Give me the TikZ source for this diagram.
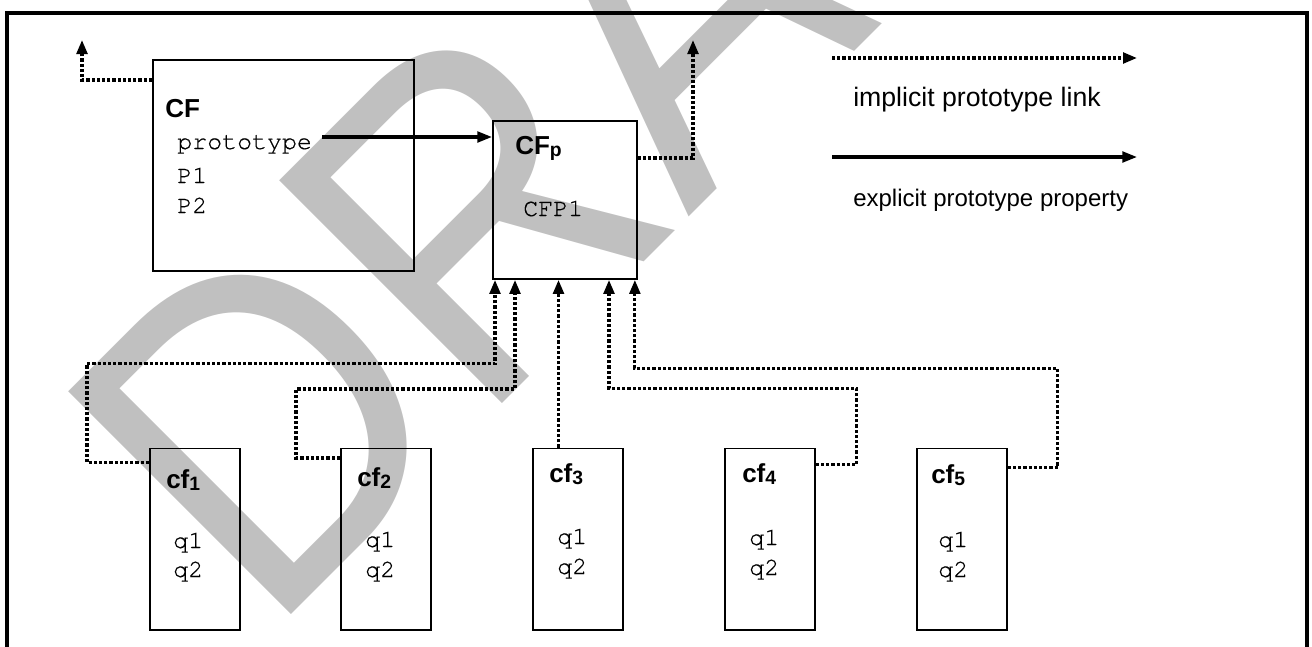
\documentclass[tikz,border=0pt]{standalone}
\usepackage{fontspec}
\usetikzlibrary{arrows.meta,calc}
\newfontfamily\sansf{Liberation Sans}
\newfontfamily\monof[FakeBold=0.5]{texgyrecursor-regular.otf}
\newfontfamily\wmfont{Liberation Sans}
\definecolor{wmgray}{RGB}{192,192,192}
\newdimen\upx \upx=0.75pt
\newcommand\sublab[1]{\raisebox{-2pt}{\fontsize{14.5pt}{15pt}\selectfont #1}}
\begin{document}
\begin{tikzpicture}[x=0.75pt,y=-0.75pt,
  box/.style={draw, line width=1.4pt, inner sep=0pt},
  imp/.style={line width=2.4pt, dash pattern=on 2.4pt off 1.5pt, -{Triangle[length=10.5pt,width=8pt]}},
  expl/.style={line width=2.3pt, -{Triangle[length=11pt,width=8pt]}},
  lab/.style={anchor=base west, inner sep=0pt, font=\sansf\fontsize{19.5pt}{22pt}\selectfont\bfseries},
  mono/.style={anchor=base west, inner sep=0pt, font=\monof\fontsize{18.7pt}{22pt}\selectfont},
  legtext/.style={anchor=base west, inner sep=0pt},
  cfbox/.style={box, anchor=north west, minimum width=90\upx, minimum height=181.5\upx},
]
\useasboundingbox (0,0) rectangle (1312,646);
% watermark
\begin{scope}
\clip (0,0) rectangle (1312,646);
\node[anchor=base west, inner sep=0pt, rotate=45, xscale=0.9, text=wmgray,
      font=\wmfont\fontsize{343.5pt}{350pt}\selectfont] (wm) at (267.6,638.4) {DRAFT};
\end{scope}
% frame
\draw[line width=2.4pt] (7,650) -- (7,13) -- (1307,13) -- (1307,650);
% boxes
\node[box, anchor=north west, minimum width=261\upx, minimum height=211\upx] (CF) at (152,59) {};
\node[box, anchor=north west, minimum width=144\upx, minimum height=158\upx] (CFp) at (492,120) {};
\node[cfbox] (cf1) at (149,447.5) {};
\node[cfbox] (cf2) at (340,447.5) {};
\node[cfbox] (cf3) at (532,447.5) {};
\node[cfbox] (cf4) at (724,447.5) {};
\node[cfbox] (cf5) at (916,447.5) {};
% texts
\node[lab] (tCF) at (165,117) {CF};
\node[mono] (tproto) at (177,149) {prototype};
\node[mono] (tP1) at (177,183) {P1};
\node[mono] (tP2) at (177,213) {P2};
\node[lab] (tCFp) at (515,154) {CF\sublab{p}};
\node[mono] (tCFP1) at (523,216) {CFP1};
\node[lab] (tc1) at (166,488) {cf\sublab{1}};
\node[lab] (tc2) at (357,486) {cf\sublab{2}};
\node[lab] (tc3) at (549,482) {cf\sublab{3}};
\node[lab] (tc4) at (742,482) {cf\sublab{4}};
\node[lab] (tc5) at (931,483) {cf\sublab{5}};
\node[mono] (q11) at (173,548) {q1};
\node[mono] (q12) at (173,577) {q2};
\node[mono] (q21) at (365,547) {q1};
\node[mono] (q22) at (365,577) {q2};
\node[mono] (q31) at (557,544) {q1};
\node[mono] (q32) at (557,574) {q2};
\node[mono] (q41) at (749,545) {q1};
\node[mono] (q42) at (749,575) {q2};
\node[mono] (q51) at (938,547) {q1};
\node[mono] (q52) at (938,577) {q2};
% legend
\coordinate (l1a) at (832,58);
\coordinate (l1b) at (1137,58);
\coordinate (l2a) at (832,157);
\coordinate (l2b) at (1137,157);
\draw[imp] (l1a) -- (l1b);
\draw[expl] (l2a) -- (l2b);
\node[legtext, font=\sansf\fontsize{20pt}{24pt}\selectfont] (leg1) at (853,106) {implicit prototype link};
\node[legtext, font=\sansf\fontsize{18pt}{22pt}\selectfont] (leg2) at (853,206) {explicit prototype property};
% connectors
\coordinate (cfup) at (82,40);
\coordinate (cfpup) at (693,40);
\draw[imp] ($(CF.north west)+(0,21)$) -| (cfup);
\draw[imp] ($(CFp.north east)+(0,38)$) -| (cfpup);
\coordinate (pstart) at (322,137);
\draw[expl] (pstart) -- (pstart -| CFp.west);
\draw[imp] ($(cf1.north west)+(0,15)$) -- ++(-62,0) -- ++(0,-99) -| ($(CFp.south west)+(3,0)$);
\draw[imp] ($(cf2.north west)+(0,10.5)$) -- ++(-44,0) -- ++(0,-69) -| ($(CFp.south west)+(23,0)$);
\draw[imp] ($(cf3.north west)+(26.5,0)$) coordinate (c3s) -- (c3s |- CFp.south);
\draw[imp] ($(cf4.north east)+(0,17)$) -- ++(41,0) -- ++(0,-76) -| ($(CFp.south west)+(117,0)$);
\draw[imp] ($(cf5.north east)+(0,20)$) -- ++(50,0) -- ++(0,-99) -| ($(CFp.south east)+(-3,0)$);
\end{tikzpicture}
\end{document}
